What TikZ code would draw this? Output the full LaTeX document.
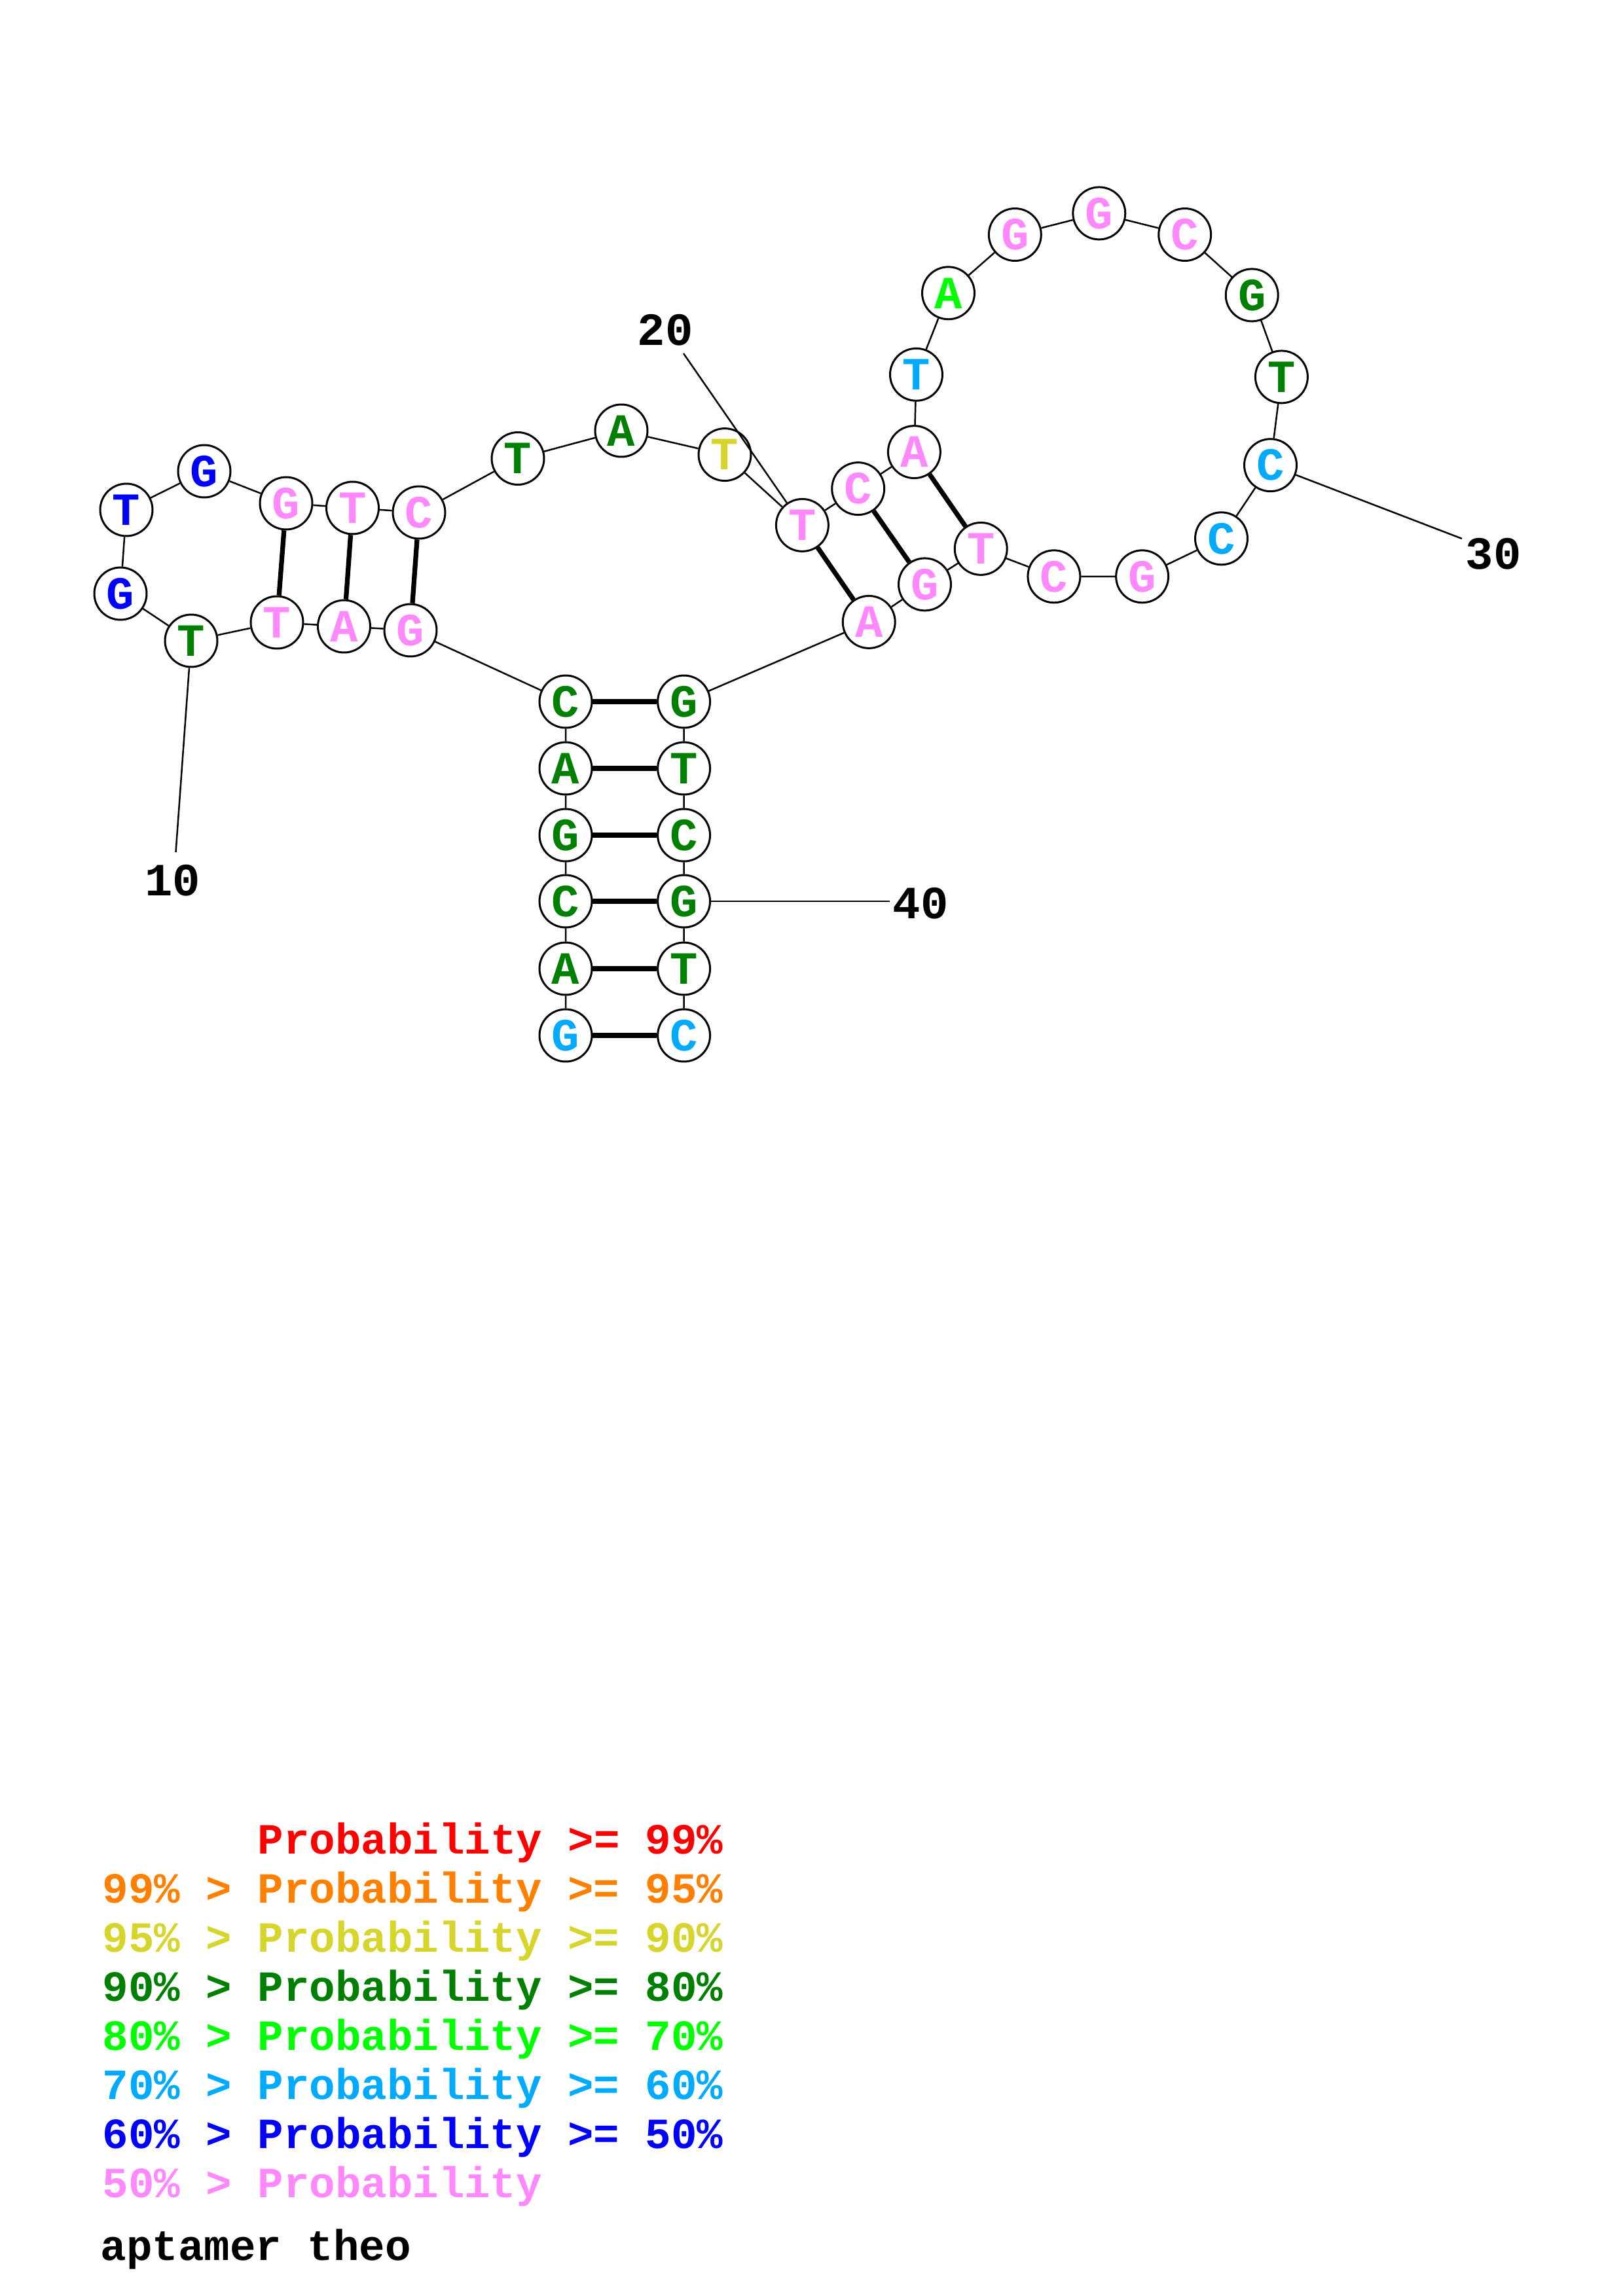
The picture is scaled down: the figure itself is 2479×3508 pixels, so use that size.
\documentclass[tikz,border=0pt]{standalone}
\usepackage{fontspec}
\setmonofont{Liberation Mono}
\usepackage{xcolor}
\usepackage{tikz}
\definecolor{pr99}{HTML}{FF0000}
\definecolor{pr95}{HTML}{FF8000}
\definecolor{pr90}{HTML}{D5D52B}
\definecolor{pr80}{HTML}{008000}
\definecolor{pr70}{HTML}{00FF00}
\definecolor{pr60}{HTML}{00AAFF}
\definecolor{pr50}{HTML}{0000FF}
\definecolor{prlo}{HTML}{FF88FF}

\begin{document}
\begin{tikzpicture}[x=0.08467mm,y=-0.08467mm,
  nt/.style={circle,draw=black,line width=0.72pt,fill=white,minimum size=6.77mm,inner sep=0pt,font=\ttfamily\bfseries\fontsize{17}{17}\selectfont},
  bb/.style={black,line width=0.6pt},
  bond/.style={black,line width=1.75pt},
  numlbl/.style={inner sep=0pt,font=\ttfamily\bfseries\fontsize{17}{17}\selectfont},
  legend/.style={anchor=base west,inner sep=0pt,font=\ttfamily\bfseries\fontsize{15.85}{19}\selectfont}]
\useasboundingbox (0,0) rectangle (2479,3508);
% left strand of the stem
\node[nt,text=pr60] (n1) at (864,1582) {G};
\node[nt,text=pr80] (n2) at (864,1480) {A};
\node[nt,text=pr80] (n3) at (864,1377) {C};
\node[nt,text=pr80] (n4) at (864,1276) {G};
\node[nt,text=pr80] (n5) at (864,1174) {A};
\node[nt,text=pr80] (n6) at (864,1072) {C};
% left hairpin
\node[nt,text=prlo] (n7) at (627,963) {G};
\node[nt,text=prlo] (n8) at (525.5,957) {A};
\node[nt,text=prlo] (n9) at (423,951) {T};
\node[nt,text=pr80] (n10) at (292,979) {T};
\node[nt,text=pr50] (n11) at (184,907) {G};
\node[nt,text=pr50] (n12) at (193,779) {T};
\node[nt,text=pr50] (n13) at (312,720) {G};
\node[nt,text=prlo] (n14) at (437,769) {G};
\node[nt,text=prlo] (n15) at (538.5,776) {T};
\node[nt,text=prlo] (n16) at (640,783) {C};
% linker
\node[nt,text=pr80] (n17) at (791,700.5) {T};
\node[nt,text=pr80] (n18) at (949,658) {A};
\node[nt,text=pr90] (n19) at (1107,694.6) {T};
% right hairpin
\node[nt,text=prlo] (n20) at (1225.4,802.4) {T};
\node[nt,text=prlo] (n21) at (1310.7,746.6) {C};
\node[nt,text=prlo] (n22) at (1396.4,690.6) {A};
\node[nt,text=pr60] (n23) at (1399.5,572.3) {T};
\node[nt,text=pr70] (n24) at (1448.5,447.8) {A};
\node[nt,text=prlo] (n25) at (1550.3,358.5) {G};
\node[nt,text=prlo] (n26) at (1678.8,325.9) {G};
\node[nt,text=prlo] (n27) at (1809.7,358.5) {C};
\node[nt,text=pr80] (n28) at (1912.2,450.9) {G};
\node[nt,text=pr80] (n29) at (1957.4,575.9) {T};
\node[nt,text=pr60] (n30) at (1940.5,710.7) {C};
\node[nt,text=pr60] (n31) at (1865.5,822.8) {C};
\node[nt,text=prlo] (n32) at (1744.6,880.8) {G};
\node[nt,text=prlo] (n33) at (1609.9,880.8) {C};
\node[nt,text=prlo] (n34) at (1498.2,838.4) {T};
\node[nt,text=prlo] (n35) at (1412.5,892.9) {G};
\node[nt,text=prlo] (n36) at (1327.2,950.4) {A};
% right strand of the stem
\node[nt,text=pr80] (n37) at (1044.6,1072) {G};
\node[nt,text=pr80] (n38) at (1044.6,1174) {T};
\node[nt,text=pr80] (n39) at (1044.6,1276) {C};
\node[nt,text=pr80] (n40) at (1044.6,1377) {G};
\node[nt,text=pr80] (n41) at (1044.6,1480) {T};
\node[nt,text=pr60] (n42) at (1044.6,1582) {C};
% backbone
\draw[bb] (n1) -- (n2) -- (n3) -- (n4) -- (n5) -- (n6) -- (n7) -- (n8) -- (n9) -- (n10)
  -- (n11) -- (n12) -- (n13) -- (n14) -- (n15) -- (n16) -- (n17) -- (n18) -- (n19) -- (n20)
  -- (n21) -- (n22) -- (n23) -- (n24) -- (n25) -- (n26) -- (n27) -- (n28) -- (n29) -- (n30)
  -- (n31) -- (n32) -- (n33) -- (n34) -- (n35) -- (n36) -- (n37) -- (n38) -- (n39) -- (n40)
  -- (n41) -- (n42);
% base pairs
\draw[bond] (n1) -- (n42);
\draw[bond] (n2) -- (n41);
\draw[bond] (n3) -- (n40);
\draw[bond] (n4) -- (n39);
\draw[bond] (n5) -- (n38);
\draw[bond] (n6) -- (n37);
\draw[bond] (n7) -- (n16);
\draw[bond] (n8) -- (n15);
\draw[bond] (n9) -- (n14);
\draw[bond] (n20) -- (n36);
\draw[bond] (n21) -- (n35);
\draw[bond] (n22) -- (n34);
% position numbers
\node[numlbl] (l10) at (264,1345) {10};
\node[numlbl] (l20) at (1016,504) {20};
\node[numlbl] (l30) at (2281,846) {30};
\node[numlbl] (l40) at (1406,1380) {40};
\coordinate (t10) at (268.5,1302);
\coordinate (t20) at (1044,540);
\coordinate (t30) at (2233,823);
\coordinate (t40) at (1359,1377);
\draw[bb] (n10) -- (t10);
\draw[bb] (t20) -- (n20);
\draw[bb] (n30) -- (t30);
\draw[bb] (n40) -- (t40);
% legend
\node[legend,text=pr99] (k1) at (393,2832) {Probability >= 99\%};
\node[legend,text=pr95] (k2) at (156,2907) {99\% > Probability >= 95\%};
\node[legend,text=pr90] (k3) at (156,2982) {95\% > Probability >= 90\%};
\node[legend,text=pr80] (k4) at (156,3057) {90\% > Probability >= 80\%};
\node[legend,text=pr70] (k5) at (156,3132) {80\% > Probability >= 70\%};
\node[legend,text=pr60] (k6) at (156,3207) {70\% > Probability >= 60\%};
\node[legend,text=pr50] (k7) at (156,3282) {60\% > Probability >= 50\%};
\node[legend,text=prlo] (k8) at (156,3357) {50\% > Probability};
\node[legend,text=black] (k9) at (153,3453) {aptamer theo};
\end{tikzpicture}
\end{document}
